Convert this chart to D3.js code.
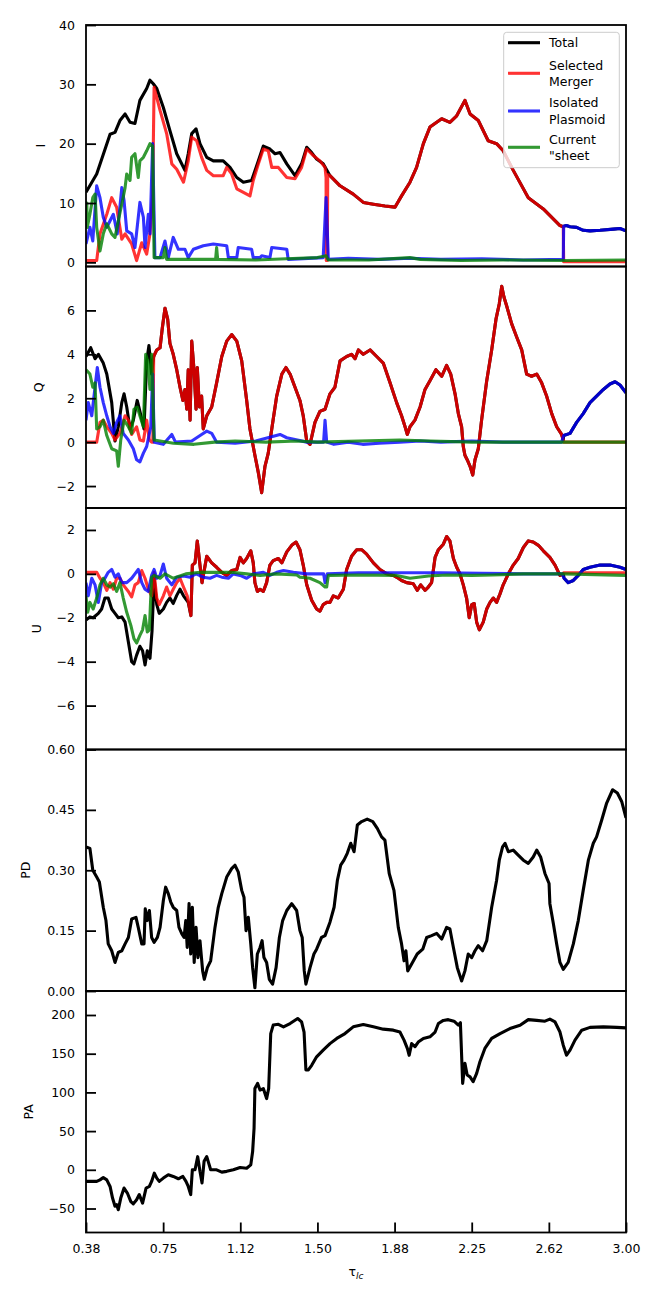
<!DOCTYPE html>
<html>
<head>
<meta charset="utf-8">
<title>I Q U PD PA</title>
<style>
  body { margin: 0; background: #fff; }
  svg text { font-family: "DejaVu Sans", sans-serif; }
</style>
</head>
<body>
<script src="https://cdn.jsdelivr.net/npm/d3@7/dist/d3.min.js"></script>
<script>
// ---- x axis ----
var xTicks = [0.375, 0.75, 1.125, 1.5, 1.875, 2.25, 2.625, 3.0];
var xTickLabels = ["0.38", "0.75", "1.12", "1.50", "1.88", "2.25", "2.62", "3.00"];

// ---- y ticks ----
var iTicks = [0, 10, 20, 30, 40];
var iTickLabels = ["0", "10", "20", "30", "40"];
var qTicks = [-2, 0, 2, 4, 6];
var qTickLabels = ["\u22122", "0", "2", "4", "6"];
var uTicks = [-6, -4, -2, 0, 2];
var uTickLabels = ["\u22126", "\u22124", "\u22122", "0", "2"];
var pdTicks = [0, 0.15, 0.30, 0.45, 0.60];
var pdTickLabels = ["0.00", "0.15", "0.30", "0.45", "0.60"];
var paTicks = [-50, 0, 50, 100, 150, 200];
var paTickLabels = ["\u221250", "0", "50", "100", "150", "200"];

var seriesNames = ["Total", "Selected\nMerger", "Isolated\nPlasmoid", "Current\n\"sheet"];

// ---- I ----
var iTotalHead = [[0.375,11.8],[0.427,14.9],[0.492,21.6],[0.516,21.9],[0.540,23.9],[0.565,25.0],[0.589,23.6],[0.613,23.4],[0.637,27.3],[0.670,29.3],[0.686,30.7],[0.702,30.1],[0.719,29.3],[0.751,26.1],[0.783,22.2],[0.816,18.3],[0.856,15.5],[0.872,18.3],[0.889,21.7],[0.910,22.5],[0.929,20.0],[0.962,17.7],[0.994,17.1],[1.042,17.1],[1.075,16.0],[1.108,14.3],[1.140,13.5],[1.180,13.8],[1.213,17.1],[1.237,19.6],[1.269,19.1],[1.294,18.3],[1.318,18.5],[1.351,16.6],[1.391,14.6],[1.423,16.6],[1.448,19.4],[1.472,18.5],[1.496,17.4],[1.528,16.6]];
// total and merger overlap here
var iShared = [[1.561,14.6],[1.610,12.9],[1.674,11.5],[1.723,10.1],[1.772,9.8],[1.828,9.5],[1.877,9.3],[1.909,11.2],[1.950,13.5],[1.982,16.0],[2.015,20.0],[2.047,22.8],[2.104,24.2],[2.144,23.6],[2.177,24.7],[2.217,27.3],[2.242,25.0],[2.282,23.9],[2.330,20.5],[2.371,20.0],[2.403,18.8],[2.452,15.5],[2.525,10.9],[2.598,9.0],[2.679,6.2],[2.695,6.0]];
var iMergerHead = [[0.375,0.3],[0.427,0.3],[0.443,4.8],[0.476,8.1],[0.500,10.9],[0.524,9.3],[0.549,3.9],[0.565,4.8],[0.597,3.1],[0.621,0.3],[0.646,3.3],[0.670,1.4],[0.686,4.8],[0.699,11.5],[0.706,29.5],[0.735,25.6],[0.767,21.7],[0.792,16.6],[0.816,15.7],[0.849,13.5],[0.872,17.1],[0.889,21.1],[0.913,20.5],[0.937,17.7],[0.962,15.5],[0.994,14.6],[1.042,14.6],[1.059,16.0],[1.083,14.9],[1.108,12.4],[1.140,11.8],[1.172,11.2],[1.188,13.8],[1.213,16.6],[1.237,19.1],[1.261,18.8],[1.278,16.0],[1.310,16.0],[1.351,14.3],[1.391,14.1],[1.423,16.0],[1.448,19.1],[1.480,18.0],[1.512,17.1],[1.537,16.0],[1.542,14.3],[1.543,0.3],[1.548,0.3],[1.550,14.8]];
var iMergerTail = [[2.697,0.1],[3.0,0.1]];
var iPlasmoidHead = [[0.375,3.1],[0.394,5.9],[0.408,3.6],[0.427,12.9],[0.443,10.9],[0.459,7.6],[0.476,5.9],[0.492,7.0],[0.508,8.1],[0.527,4.8],[0.549,12.6],[0.560,10.4],[0.573,5.3],[0.597,4.8],[0.613,2.5],[0.637,10.1],[0.654,7.6],[0.662,2.5],[0.678,8.1],[0.686,4.8],[0.699,20.0],[0.710,0.8],[0.735,0.8],[0.759,3.6],[0.775,0.8],[0.799,4.2],[0.824,2.2],[0.856,2.2],[0.872,0.8],[0.897,2.2],[0.945,2.8],[0.994,3.1],[1.059,2.8],[1.067,0.8],[1.108,0.8],[1.115,2.5],[1.180,2.2],[1.188,0.8],[1.221,0.8],[1.229,1.1],[1.269,0.8],[1.278,2.5],[1.351,2.2],[1.358,0.5],[1.528,0.8],[1.542,10.9],[1.553,0.5],[1.650,0.7],[1.800,0.5],[1.950,0.7],[2.100,0.5],[2.300,0.6],[2.500,0.4],[2.695,0.5]];
// total and plasmoid overlap here
var iPlasmoidTail = [[2.697,6.1],[2.710,6.2],[2.728,6.0],[2.760,5.9],[2.792,5.4],[2.825,5.3],[2.874,5.4],[2.939,5.6],[2.971,5.7],[3.0,5.3]];
var iSheet = [[0.375,9.3],[0.379,10.0],[0.381,5.9],[0.394,8.1],[0.408,10.9],[0.419,11.5],[0.427,5.9],[0.443,1.9],[0.459,4.8],[0.476,6.5],[0.500,4.8],[0.516,4.2],[0.532,7.0],[0.549,9.8],[0.565,12.6],[0.573,14.9],[0.589,13.8],[0.597,17.7],[0.613,18.3],[0.629,14.3],[0.637,17.1],[0.654,17.7],[0.670,18.8],[0.686,20.0],[0.699,19.6],[0.706,0.8],[0.751,0.8],[0.759,2.5],[0.767,0.5],[0.900,0.5],[1.005,0.5],[1.010,2.5],[1.015,0.5],[1.200,0.4],[1.350,0.6],[1.500,0.8],[1.542,1.1],[1.553,0.4],[1.750,0.4],[1.950,0.8],[2.000,0.5],[2.200,0.3],[2.400,0.4],[2.700,0.3],[3.0,0.4]];

// ---- Q ----
var qTotalHead = [[0.375,3.9],[0.398,4.3],[0.419,3.8],[0.435,4.0],[0.459,3.6],[0.476,3.1],[0.500,1.8],[0.516,0.05],[0.532,0.7],[0.549,1.8],[0.560,2.2],[0.573,1.6],[0.589,0.6],[0.605,1.0],[0.624,1.9],[0.637,1.4],[0.657,0.6],[0.670,3.7],[0.681,4.4],[0.694,3.1]];
var qShared = [[0.704,3.9],[0.719,4.2],[0.735,4.3],[0.746,5.2],[0.759,6.1],[0.772,5.6],[0.783,4.5],[0.799,4.0],[0.816,3.3],[0.832,2.5],[0.846,1.9],[0.856,2.4],[0.865,1.5],[0.872,3.3],[0.881,1.0],[0.889,4.6],[0.900,3.3],[0.910,1.5],[0.916,3.4],[0.926,1.6],[0.937,2.1],[0.945,0.6],[0.962,1.2],[0.986,1.6],[1.010,2.7],[1.035,3.9],[1.059,4.6],[1.083,4.9],[1.108,4.6],[1.132,3.7],[1.156,1.9],[1.172,0.6],[1.196,-0.6],[1.213,-1.4],[1.229,-2.3],[1.245,-1.1],[1.261,-0.5],[1.278,0.6],[1.302,2.1],[1.327,3.1],[1.347,3.4],[1.367,3.1],[1.391,2.5],[1.415,1.9],[1.431,1.2],[1.448,0.05],[1.464,-0.1],[1.488,0.9],[1.512,1.4],[1.537,1.5],[1.561,2.2],[1.585,2.5],[1.610,3.7],[1.642,3.9],[1.666,4.0],[1.683,3.8],[1.699,4.2],[1.723,4.0],[1.756,4.2],[1.788,3.9],[1.820,3.6],[1.853,2.7],[1.885,1.8],[1.909,1.2],[1.926,0.7],[1.937,0.35],[1.950,0.7],[1.974,1.0],[1.999,1.6],[2.023,2.4],[2.047,2.8],[2.076,3.3],[2.104,3.0],[2.128,3.5],[2.148,3.1],[2.169,2.2],[2.185,1.3],[2.201,0.7],[2.209,-0.2],[2.217,-0.6],[2.228,-0.8],[2.242,-1.1],[2.255,-1.5],[2.266,-0.8],[2.282,-0.3],[2.298,1.0],[2.323,2.8],[2.347,4.2],[2.368,5.6],[2.384,6.3],[2.396,7.1],[2.407,6.6],[2.420,6.2],[2.444,5.4],[2.468,4.8],[2.493,4.2],[2.517,3.1],[2.541,3.0],[2.566,3.1],[2.590,2.7],[2.614,2.1],[2.639,1.3],[2.663,0.7],[2.687,0.35],[2.695,0.1]];
var qMergerHead = [[0.375,0],[0.427,0],[0.443,0.9],[0.459,1.0],[0.476,0.7],[0.500,0.4],[0.516,0.1],[0.540,0.4],[0.565,1.2],[0.581,1.0],[0.597,0.35],[0.621,0.7],[0.637,0.1],[0.654,0.05],[0.670,1.0],[0.683,0.1],[0.694,0],[0.700,0]];
var qMergerTail = [[2.697,0],[3.0,0]];
var qPlasmoidHead = [[0.375,1.0],[0.386,1.8],[0.403,1.2],[0.419,2.5],[0.430,3.4],[0.443,2.5],[0.459,1.8],[0.476,1.2],[0.492,0.7],[0.508,0.4],[0.524,0.9],[0.540,1.2],[0.556,0.4],[0.581,0.1],[0.605,-0.3],[0.621,-0.8],[0.637,-0.9],[0.654,-0.5],[0.670,-0.2],[0.690,0.7],[0.699,3.1],[0.707,0],[0.751,-0.1],[0.792,0.35],[0.810,0],[0.889,0.05],[0.937,0.35],[0.962,0.5],[0.986,0.4],[1.010,0],[1.100,-0.05],[1.200,0.05],[1.318,0.35],[1.351,0.2],[1.448,0],[1.530,0],[1.537,1.0],[1.545,0],[1.580,-0.1],[1.650,0],[1.720,-0.1],[1.800,-0.05],[1.900,0],[2.000,0.05],[2.100,0],[2.250,0.05],[2.400,0],[2.600,0],[2.687,0]];
var qPlasmoidTail = [[2.697,0.3],[2.728,0.4],[2.760,0.9],[2.792,1.3],[2.825,1.8],[2.857,2.1],[2.890,2.4],[2.922,2.65],[2.947,2.75],[2.971,2.6],[3.0,2.25]];
var qSheet = [[0.375,3.3],[0.394,3.1],[0.408,2.5],[0.419,2.7],[0.427,0.6],[0.443,0.7],[0.459,1.0],[0.476,0.3],[0.500,-0.3],[0.524,-0.4],[0.532,-1.1],[0.544,0.1],[0.560,1.0],[0.581,0.7],[0.597,0.4],[0.608,1.5],[0.624,1.6],[0.637,1.2],[0.654,0.7],[0.665,4.0],[0.675,3.7],[0.686,2.4],[0.694,4.0],[0.706,0.1],[0.800,-0.05],[0.900,-0.1],[1.000,0],[1.100,0.05],[1.250,0],[1.400,0.05],[1.500,0],[1.700,0.05],[1.900,0.1],[2.050,0.05],[2.250,0],[2.500,0],[3.0,0]];

// ---- U ----
var uTotalHead = [[0.375,-2.1],[0.394,-1.96],[0.410,-2.0],[0.435,-1.8],[0.451,-1.6],[0.467,-1.1],[0.483,-1.1],[0.500,-1.6],[0.516,-1.8],[0.532,-2.0],[0.549,-1.96],[0.565,-2.2],[0.581,-3.1],[0.597,-4.0],[0.608,-4.1],[0.621,-3.7],[0.637,-3.3],[0.650,-3.5],[0.662,-4.15],[0.673,-3.5],[0.686,-3.85],[0.696,-2.6],[0.706,-0.2],[0.719,-1.4],[0.731,-1.8],[0.751,-1.6],[0.767,-1.3],[0.783,-1.1],[0.799,-1.35],[0.816,-0.98],[0.832,-0.7],[0.849,-1.0],[0.872,-1.3]];
var uShared = [[0.885,-1.9],[0.892,0.4],[0.905,0.5],[0.916,1.5],[0.929,0.4],[0.939,-0.4],[0.962,0.8],[0.986,0.5],[1.010,0.3],[1.035,0.07],[1.059,-0.07],[1.083,0.15],[1.108,0.2],[1.124,0.75],[1.140,0.5],[1.156,0.7],[1.176,1.05],[1.188,0.5],[1.196,-0.4],[1.208,-0.8],[1.221,-0.7],[1.237,-0.8],[1.253,-0.4],[1.269,0.4],[1.285,0.6],[1.310,0.7],[1.327,0.5],[1.351,1.0],[1.375,1.3],[1.396,1.45],[1.415,1.1],[1.431,0.4],[1.448,-0.5],[1.472,-1.2],[1.496,-1.6],[1.512,-1.7],[1.528,-1.4],[1.545,-1.3],[1.561,-1.3],[1.577,-1.0],[1.601,-1.1],[1.626,-0.7],[1.642,0.2],[1.666,0.8],[1.691,1.1],[1.715,1.1],[1.739,0.9],[1.772,0.5],[1.804,0.2],[1.837,0],[1.869,-0.07],[1.893,-0.2],[1.909,-0.3],[1.934,-0.4],[1.966,-0.45],[1.985,-0.75],[2.002,-0.5],[2.023,-0.75],[2.039,-0.6],[2.055,-0.4],[2.072,0.75],[2.088,1.1],[2.112,1.35],[2.128,1.7],[2.144,1.5],[2.161,0.7],[2.177,0.3],[2.193,0],[2.209,-0.5],[2.225,-1.1],[2.238,-2.0],[2.250,-1.4],[2.262,-1.35],[2.274,-2.2],[2.287,-2.55],[2.306,-2.2],[2.323,-1.6],[2.339,-1.3],[2.355,-1.1],[2.371,-1.3],[2.388,-0.9],[2.403,-0.5],[2.428,0],[2.452,0.4],[2.476,0.7],[2.501,1.2],[2.525,1.5],[2.549,1.45],[2.574,1.3],[2.598,1.05],[2.630,0.75],[2.655,0.4],[2.679,-0.07],[2.695,0]];
var uMergerHead = [[0.375,0.07],[0.427,0.07],[0.443,-0.2],[0.459,-0.4],[0.476,-0.75],[0.492,-0.4],[0.508,-0.7],[0.524,-0.2],[0.540,-0.2],[0.556,-0.5],[0.581,-0.8],[0.597,-1.05],[0.613,-0.5],[0.629,-0.4],[0.646,0.15],[0.662,-0.2],[0.678,-0.7],[0.694,-1.0],[0.706,0.07],[0.719,-1.1],[0.731,-1.4],[0.751,-1.0],[0.767,-0.6],[0.783,-1.0],[0.799,-0.7],[0.816,-0.4],[0.832,-0.2],[0.849,-0.6],[0.867,-1.0]];
var uMergerTail = [[2.697,0.05],[3.0,0.05]];
var uPlasmoidHead = [[0.375,-0.4],[0.386,-1.0],[0.403,-0.2],[0.419,-0.5],[0.435,-1.3],[0.451,-0.4],[0.467,-0.2],[0.483,0.07],[0.500,0.2],[0.516,-0.15],[0.532,0],[0.549,-0.4],[0.573,-0.4],[0.597,-0.2],[0.613,0],[0.629,0.2],[0.646,-0.4],[0.662,-0.7],[0.678,-0.8],[0.694,-0.07],[0.706,0.2],[0.719,-0.2],[0.735,-0.07],[0.751,0.45],[0.767,-0.2],[0.792,-0.5],[0.816,-0.15],[0.850,-0.1],[0.880,-0.15],[0.910,0],[0.945,-0.15],[0.978,-0.2],[1.010,-0.07],[1.035,-0.15],[1.067,-0.2],[1.091,0],[1.124,-0.07],[1.156,-0.2],[1.188,0],[1.237,0.07],[1.269,-0.07],[1.302,0.07],[1.335,0.15],[1.383,0.07],[1.448,0],[1.530,0],[1.537,-0.4],[1.548,0],[1.700,0.05],[1.900,0.05],[2.100,0.05],[2.300,0.03],[2.500,0],[2.690,0]];
var uPlasmoidTail = [[2.699,-0.2],[2.719,-0.4],[2.744,-0.3],[2.768,-0.07],[2.792,0.2],[2.825,0.3],[2.874,0.4],[2.922,0.4],[2.971,0.3],[3.0,0.2]];
var uSheet = [[0.375,-1.0],[0.383,-1.75],[0.394,-1.3],[0.410,-1.6],[0.427,-1.1],[0.443,-0.5],[0.459,-0.2],[0.476,-0.5],[0.492,-0.6],[0.508,-0.45],[0.524,-0.8],[0.540,-0.4],[0.556,-1.1],[0.573,-1.75],[0.593,-2.35],[0.608,-2.95],[0.621,-3.15],[0.637,-2.8],[0.650,-2.55],[0.662,-1.9],[0.673,-2.65],[0.683,-2.55],[0.694,-0.15],[0.706,-0.07],[0.735,-0.2],[0.759,0],[0.799,-0.2],[0.860,0],[0.929,0.07],[1.010,0.07],[1.083,0.07],[1.156,0],[1.221,-0.07],[1.300,0],[1.400,-0.05],[1.415,-0.15],[1.464,-0.2],[1.512,-0.4],[1.537,-0.6],[1.545,-0.6],[1.553,-0.07],[1.700,-0.05],[1.885,-0.07],[1.950,-0.2],[2.040,-0.1],[2.130,-0.05],[2.250,-0.07],[2.350,-0.05],[2.500,0],[2.700,0],[3.0,-0.07]];

// ---- PD ----
var pdTotal = [[0.375,0.358],[0.394,0.354],[0.408,0.30],[0.427,0.283],[0.440,0.271],[0.459,0.208],[0.472,0.175],[0.483,0.117],[0.500,0.10],[0.516,0.071],[0.532,0.096],[0.549,0.10],[0.565,0.117],[0.581,0.133],[0.597,0.179],[0.618,0.183],[0.629,0.158],[0.646,0.117],[0.657,0.117],[0.663,0.204],[0.673,0.175],[0.683,0.20],[0.694,0.133],[0.706,0.121],[0.722,0.133],[0.735,0.158],[0.751,0.225],[0.762,0.258],[0.775,0.242],[0.787,0.221],[0.799,0.208],[0.816,0.20],[0.827,0.158],[0.841,0.142],[0.852,0.133],[0.860,0.175],[0.867,0.108],[0.876,0.217],[0.884,0.092],[0.892,0.208],[0.901,0.071],[0.910,0.158],[0.919,0.083],[0.929,0.125],[0.942,0.05],[0.950,0.029],[0.965,0.058],[0.981,0.075],[1.002,0.158],[1.018,0.208],[1.035,0.242],[1.059,0.283],[1.083,0.304],[1.099,0.3125],[1.115,0.296],[1.132,0.25],[1.143,0.233],[1.153,0.15],[1.164,0.183],[1.176,0.117],[1.185,0.058],[1.196,0.008],[1.208,0.092],[1.221,0.108],[1.231,0.125],[1.240,0.083],[1.253,0.071],[1.266,0.029],[1.282,0.017],[1.299,0.058],[1.315,0.133],[1.331,0.175],[1.351,0.20],[1.375,0.217],[1.399,0.20],[1.415,0.15],[1.426,0.133],[1.436,0.05],[1.444,0.017],[1.464,0.058],[1.483,0.092],[1.496,0.104],[1.520,0.133],[1.537,0.1375],[1.561,0.171],[1.581,0.208],[1.597,0.275],[1.613,0.3125],[1.629,0.325],[1.645,0.342],[1.662,0.367],[1.678,0.346],[1.694,0.4125],[1.715,0.421],[1.742,0.427],[1.769,0.421],[1.791,0.404],[1.812,0.383],[1.828,0.375],[1.849,0.292],[1.872,0.25],[1.893,0.158],[1.909,0.117],[1.921,0.075],[1.930,0.10],[1.939,0.05],[1.958,0.067],[1.985,0.092],[2.012,0.104],[2.031,0.133],[2.055,0.1375],[2.080,0.143],[2.104,0.129],[2.128,0.158],[2.144,0.154],[2.161,0.108],[2.180,0.058],[2.201,0.025],[2.217,0.05],[2.233,0.092],[2.250,0.083],[2.266,0.10],[2.282,0.1125],[2.303,0.10],[2.323,0.125],[2.347,0.208],[2.371,0.275],[2.384,0.325],[2.400,0.358],[2.412,0.367],[2.428,0.346],[2.452,0.35],[2.476,0.3375],[2.501,0.325],[2.525,0.317],[2.549,0.333],[2.566,0.35],[2.585,0.333],[2.606,0.292],[2.626,0.267],[2.630,0.217],[2.647,0.167],[2.663,0.117],[2.679,0.071],[2.695,0.054],[2.719,0.071],[2.744,0.117],[2.768,0.175],[2.792,0.25],[2.817,0.325],[2.841,0.367],[2.857,0.383],[2.882,0.425],[2.906,0.467],[2.935,0.50],[2.958,0.492],[2.979,0.471],[3.0,0.43]];

// ---- PA ----
var paTotal = [[0.375,-15],[0.427,-15],[0.443,-13],[0.459,-10],[0.476,-13],[0.492,-21.5],[0.504,-36.5],[0.516,-47],[0.524,-45],[0.532,-51.5],[0.544,-36.5],[0.560,-23.6],[0.576,-30],[0.593,-41],[0.605,-44],[0.621,-38.7],[0.634,-32],[0.650,-43],[0.667,-23.6],[0.683,-21.5],[0.694,-15],[0.707,-4.3],[0.719,-10.7],[0.731,-15],[0.751,-10.7],[0.775,-6.4],[0.799,-8.6],[0.824,-11.6],[0.846,-8.6],[0.861,-15],[0.872,-21.5],[0.884,-32],[0.892,0],[0.905,0],[0.918,17],[0.929,-2],[0.939,-17],[0.949,11],[0.962,17],[0.981,0],[1.010,0],[1.035,-3],[1.059,-2],[1.091,0],[1.124,3],[1.156,2],[1.176,6.4],[1.185,23.6],[1.192,53.7],[1.196,105],[1.209,111.7],[1.221,103],[1.237,105],[1.253,92],[1.263,105],[1.273,176],[1.285,187],[1.310,188],[1.335,184.7],[1.367,189],[1.404,195.5],[1.423,191],[1.435,178],[1.444,129],[1.456,129],[1.472,135],[1.496,146],[1.528,154.6],[1.561,163],[1.594,169.7],[1.634,176],[1.674,184.7],[1.723,187.7],[1.772,184.7],[1.820,181.7],[1.869,180.4],[1.901,178],[1.921,167.5],[1.937,156.8],[1.946,148],[1.958,163],[1.974,159],[1.990,165],[2.015,169.7],[2.047,171.8],[2.072,178],[2.088,189],[2.112,193],[2.136,194],[2.164,192],[2.185,187],[2.195,190],[2.206,111.7],[2.217,137.5],[2.228,122.4],[2.242,120],[2.257,113.8],[2.274,124.6],[2.290,139.6],[2.314,156.8],[2.347,169.7],[2.388,176],[2.436,182.5],[2.485,186.8],[2.525,194],[2.566,193],[2.606,192],[2.630,194.6],[2.655,191],[2.679,178],[2.695,161],[2.711,148],[2.728,154.6],[2.752,167.5],[2.785,180.4],[2.825,184],[2.890,184.7],[2.955,184],[3.0,183.4]];

// ---- layout ----
var width = 661, height = 1302;
var left = 86, right = 626, top0 = 25, ph = 241.5;
var RED = "#ff0000", BLUE = "#0000ff", GREEN = "#008000";

var panels = [
  { label: "I", labelX: 40.5, domain: [-0.7, 40], ticks: iTicks, tickLabels: iTickLabels,
    series: [
      { data: iTotalHead.concat(iShared, iPlasmoidTail), color: "#000", op: 1 },
      { data: iMergerHead.concat(iShared, iMergerTail), color: RED, op: 0.8 },
      { data: iPlasmoidHead.concat(iPlasmoidTail), color: BLUE, op: 0.8 },
      { data: iSheet, color: GREEN, op: 0.8 }] },
  { label: "Q", labelX: 38.3, domain: [-3, 8], ticks: qTicks, tickLabels: qTickLabels,
    series: [
      { data: qTotalHead.concat(qShared, qPlasmoidTail), color: "#000", op: 1 },
      { data: qMergerHead.concat(qShared, qMergerTail), color: RED, op: 0.8 },
      { data: qPlasmoidHead.concat(qPlasmoidTail), color: BLUE, op: 0.8 },
      { data: qSheet, color: GREEN, op: 0.8 }] },
  { label: "U", labelX: 37, domain: [-8, 3], ticks: uTicks, tickLabels: uTickLabels,
    series: [
      { data: uTotalHead.concat(uShared, uPlasmoidTail), color: "#000", op: 1 },
      { data: uMergerHead.concat(uShared, uMergerTail), color: RED, op: 0.8 },
      { data: uPlasmoidHead.concat(uPlasmoidTail), color: BLUE, op: 0.8 },
      { data: uSheet, color: GREEN, op: 0.8 }] },
  { label: "PD", labelX: 26, domain: [0, 0.6], ticks: pdTicks, tickLabels: pdTickLabels,
    series: [{ data: pdTotal, color: "#000", op: 1 }] },
  { label: "PA", labelX: 28.7, domain: [-81, 231], ticks: paTicks, tickLabels: paTickLabels,
    series: [{ data: paTotal, color: "#000", op: 1 }] }
];

var svg = d3.select("body").append("svg")
    .attr("width", width)
    .attr("height", height);

var x = d3.scaleLinear().domain([0.375, 3.0]).range([left, right]);

panels.forEach(function (p, i) {
    var top = top0 + i * ph;
    var y = d3.scaleLinear().domain(p.domain).range([top + ph, top]);

    svg.append("clipPath").attr("id", "clip" + i)
        .append("rect")
        .attr("x", left).attr("y", top)
        .attr("width", right - left).attr("height", ph);

    var line = d3.line()
        .x(function (d) { return x(d[0]); })
        .y(function (d) { return y(d[1]); });

    var g = svg.append("g").attr("clip-path", "url(#clip" + i + ")");
    p.series.forEach(function (s) {
        g.append("path")
            .attr("d", line(s.data))
            .attr("fill", "none")
            .attr("stroke", s.color)
            .attr("stroke-opacity", s.op)
            .attr("stroke-width", 3.1)
            .attr("stroke-linejoin", "round");
    });

    // y axis, ticks pointing in
    var ax = svg.append("g")
        .attr("transform", "translate(" + left + ",0)")
        .call(d3.axisLeft(y)
            .tickValues(p.ticks)
            .tickFormat(function (d, k) { return p.tickLabels[k]; })
            .tickSizeInner(-10).tickSizeOuter(0).tickPadding(11));
    ax.select(".domain").remove();
    ax.selectAll("line").attr("stroke", "#000").attr("stroke-width", 1.8);
    ax.selectAll("text").attr("font-size", "12.5px").attr("fill", "#000")
        .attr("font-family", "DejaVu Sans, sans-serif");

    // frame
    svg.append("rect")
        .attr("x", left).attr("y", top)
        .attr("width", right - left).attr("height", ph)
        .attr("fill", "none").attr("stroke", "#000").attr("stroke-width", 1.8);

    svg.append("text")
        .attr("transform", "translate(" + p.labelX + "," + (top + ph / 2) + ") rotate(-90)")
        .attr("text-anchor", "middle")
        .attr("dy", "0.35em")
        .attr("font-size", "12.5px")
        .text(p.label);

    if (i === panels.length - 1) {
        var bx = svg.append("g")
            .attr("transform", "translate(0," + (top + ph) + ")")
            .call(d3.axisBottom(x)
                .tickValues(xTicks)
                .tickFormat(function (d, k) { return xTickLabels[k]; })
                .tickSizeInner(-10).tickSizeOuter(0).tickPadding(11.5));
        bx.select(".domain").remove();
        bx.selectAll("line").attr("stroke", "#000").attr("stroke-width", 1.8);
        bx.selectAll("text").attr("font-size", "12.5px").attr("fill", "#000")
            .attr("font-family", "DejaVu Sans, sans-serif");
    }
});

// x label  tau_lc
var xl = svg.append("text")
    .attr("x", (left + right) / 2).attr("y", 1276)
    .attr("text-anchor", "middle")
    .attr("font-size", "12.5px");
xl.append("tspan").text("\u03c4");
xl.append("tspan").attr("font-size", "9px").attr("font-style", "italic").attr("dy", "3").text("lc");

// legend (top panel)
var legColors = ["#000", RED, BLUE, GREEN];
var legOps = [1, 0.8, 0.8, 0.8];
var legY = [42.7, 73.3, 111, 147.3];
var leg = svg.append("g");
leg.append("rect")
    .attr("x", 503.7).attr("y", 32.3)
    .attr("width", 115.6).attr("height", 135.4)
    .attr("rx", 3)
    .attr("fill", "#fff").attr("fill-opacity", 0.8)
    .attr("stroke", "#cccccc").attr("stroke-width", 1);
seriesNames.forEach(function (name, k) {
    leg.append("line")
        .attr("x1", 508).attr("x2", 540)
        .attr("y1", legY[k]).attr("y2", legY[k])
        .attr("stroke", legColors[k]).attr("stroke-opacity", legOps[k])
        .attr("stroke-width", 3.1);
    var parts = name.split("\n");
    var y0 = legY[k] - (parts.length - 1) * 8.15;
    parts.forEach(function (t, j) {
        leg.append("text")
            .attr("x", 549).attr("y", y0 + j * 16.3)
            .attr("dy", "0.35em")
            .attr("font-size", "12.5px")
            .text(t);
    });
});
</script>
</body>
</html>
